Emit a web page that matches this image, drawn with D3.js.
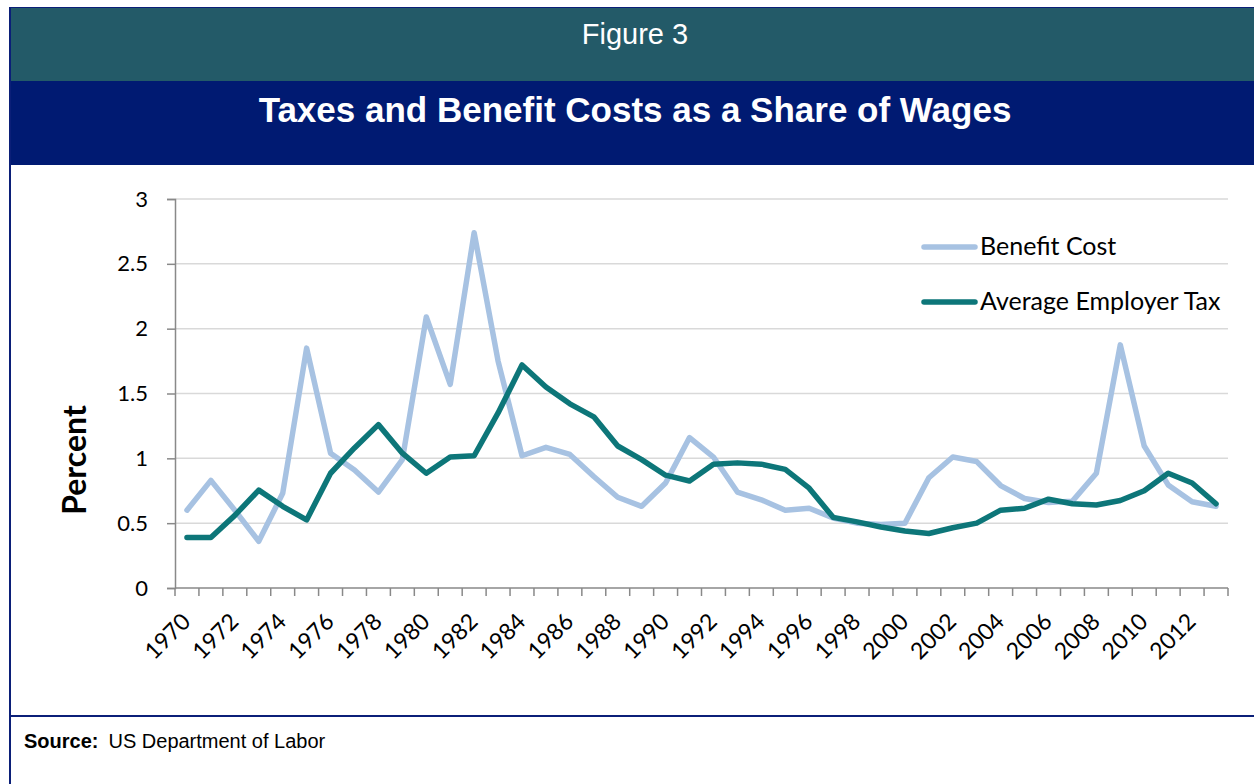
<!DOCTYPE html>
<html>
<head>
<meta charset="utf-8">
<script src="https://cdn.jsdelivr.net/npm/d3@7"></script>
<style>
  html, body { margin: 0; padding: 0; background: #ffffff; }
  svg { display: block; }
</style>
</head>
<body>
<svg id="chart" width="1254" height="784"></svg>
<script>
const years = [1970,1971,1972,1973,1974,1975,1976,1977,1978,1979,
               1980,1981,1982,1983,1984,1985,1986,1987,1988,1989,
               1990,1991,1992,1993,1994,1995,1996,1997,1998,1999,
               2000,2001,2002,2003,2004,2005,2006,2007,2008,2009,
               2010,2011,2012,2013];
const benefitCost = [0.60,0.83,0.60,0.36,0.73,1.85,1.04,0.91,0.74,0.99,
                     2.09,1.57,2.74,1.75,1.02,1.085,1.03,0.86,0.70,0.63,
                     0.81,1.16,1.01,0.74,0.68,0.60,0.615,0.54,0.50,0.49,
                     0.50,0.85,1.01,0.975,0.79,0.69,0.66,0.67,0.885,1.875,
                     1.095,0.795,0.665,0.63];
const employerTax = [0.39,0.39,0.56,0.755,0.63,0.525,0.885,1.08,1.26,1.04,
                     0.885,1.01,1.02,1.35,1.72,1.55,1.42,1.32,1.095,0.99,
                     0.87,0.825,0.955,0.965,0.955,0.915,0.77,0.545,0.51,0.47,
                     0.44,0.42,0.465,0.50,0.60,0.615,0.685,0.65,0.64,0.675,
                     0.75,0.885,0.81,0.65];
const yTicks = [0, 0.5, 1, 1.5, 2, 2.5, 3];
const xLabelYears = years.filter(y => y % 2 === 0);
const seriesNames = ["Benefit Cost", "Average Employer Tax"];
const seriesColors = ["#a7c2e2", "#0d7679"];

const svg = d3.select("#chart");
const W = 1254, H = 784;

// Frame / header bands
svg.append("rect").attr("x", 9).attr("y", 7).attr("width", W - 9).attr("height", 74).attr("fill", "#235a68");
svg.append("rect").attr("x", 9).attr("y", 81).attr("width", W - 9).attr("height", 84).attr("fill", "#001a72");
svg.append("line").attr("x1", 9).attr("x2", W).attr("y1", 7.5).attr("y2", 7.5).attr("stroke", "#0b1f78").attr("stroke-width", 1);
svg.append("line").attr("x1", 10).attr("x2", 10).attr("y1", 7).attr("y2", H).attr("stroke", "#0b1f78").attr("stroke-width", 2);
svg.append("line").attr("x1", 9).attr("x2", W).attr("y1", 716).attr("y2", 716).attr("stroke", "#0b1f78").attr("stroke-width", 2);

svg.append("text").attr("x", 635).attr("y", 44).attr("text-anchor", "middle")
  .attr("font-family", "Liberation Sans, Arial, sans-serif").attr("font-size", 29).attr("fill", "#ffffff")
  .text("Figure 3");
svg.append("text").attr("x", 635).attr("y", 122).attr("text-anchor", "middle")
  .attr("font-family", "Liberation Sans, Arial, sans-serif").attr("font-size", 35).attr("font-weight", "bold").attr("fill", "#ffffff")
  .text("Taxes and Benefit Costs as a Share of Wages");

const src = svg.append("text").attr("x", 24).attr("y", 748)
  .attr("font-family", "Liberation Sans, Arial, sans-serif").attr("font-size", 20).attr("fill", "#000000");
src.append("tspan").attr("font-weight", "bold").text("Source:");
src.append("tspan").attr("dx", 10).text("US Department of Labor");

// Scales
const x = d3.scaleBand().domain(years).range([175, 1228]).padding(0);
const y = d3.scaleLinear().domain([0, 3]).range([588, 199]);
const cx = yr => x(yr) + x.bandwidth() / 2;

const axisFont = "Lato, 'Open Sans', sans-serif";

// Gridlines
svg.append("g").selectAll("line").data(yTicks.filter(t => t > 0)).join("line")
  .attr("x1", 175).attr("x2", 1228).attr("y1", d => y(d)).attr("y2", d => y(d))
  .attr("stroke", "#d9d9d9").attr("stroke-width", 1.5);

// Y axis
const yAxis = d3.axisLeft(y).tickValues(yTicks).tickSize(8).tickPadding(19).tickFormat(d => d3.format("")(d));
const gy = svg.append("g").attr("transform", "translate(175,0)").call(yAxis);
gy.select(".domain").attr("stroke", "#898989").attr("stroke-width", 1.5);
gy.selectAll(".tick line").attr("stroke", "#898989").attr("stroke-width", 1.5);
gy.selectAll(".tick text").attr("font-family", axisFont).attr("font-size", 22).attr("fill", "#000");

// X axis line + ticks at band boundaries
const boundaries = years.map(yr => x(yr)).concat([x.range()[1]]);
svg.append("line").attr("x1", 175).attr("x2", 1228).attr("y1", y(0)).attr("y2", y(0))
  .attr("stroke", "#898989").attr("stroke-width", 1.5);
svg.append("g").selectAll("line").data(boundaries).join("line")
  .attr("x1", d => d).attr("x2", d => d).attr("y1", y(0)).attr("y2", y(0) + 8)
  .attr("stroke", "#898989").attr("stroke-width", 1.5);

svg.append("g").selectAll("text").data(xLabelYears).join("text")
  .attr("transform", d => `translate(${cx(d) + 5},${623}) rotate(-45)`)
  .attr("text-anchor", "end")
  .attr("font-family", axisFont).attr("font-size", 23).attr("fill", "#000")
  .text(d => d);

// Y axis title
svg.append("text").attr("transform", "translate(86,460) rotate(-90)").attr("text-anchor", "middle")
  .attr("font-family", axisFont).attr("font-size", 32).attr("font-weight", "bold").attr("fill", "#000")
  .text("Percent");

// Lines
const line = d3.line().x((d, i) => cx(years[i])).y(d => y(d));
[benefitCost, employerTax].forEach((s, k) => {
  svg.append("path").datum(s).attr("d", line).attr("fill", "none")
    .attr("stroke", seriesColors[k]).attr("stroke-width", 5.5)
    .attr("stroke-linejoin", "round").attr("stroke-linecap", "round");
});

// Legend
const legY = [247, 302];
seriesNames.forEach((n, k) => {
  svg.append("line").attr("x1", 924).attr("x2", 975).attr("y1", legY[k]).attr("y2", legY[k])
    .attr("stroke", seriesColors[k]).attr("stroke-width", 5.5).attr("stroke-linecap", "round");
  svg.append("text").attr("x", 980).attr("y", legY[k] + 8)
    .attr("font-family", axisFont).attr("font-size", 25).attr("fill", "#000").text(n);
});
</script>
</body>
</html>
